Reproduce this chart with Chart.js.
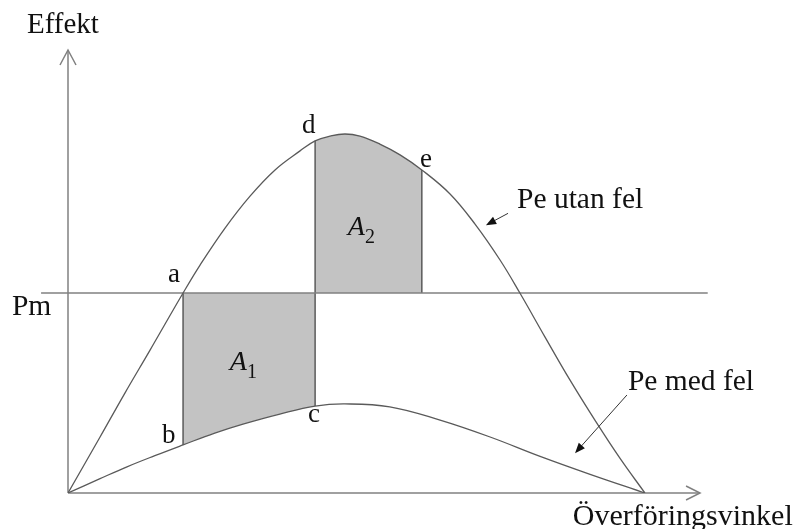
<!DOCTYPE html>
<html>
<head>
<meta charset="utf-8">
<script src="https://cdn.jsdelivr.net/npm/chart.js@4"></script>
<style>
  body { margin: 0; background: #fff; }
</style>
</head>
<body>
<canvas id="ekvChart" width="795" height="529"></canvas>
<script>
// Överföringsvinkel (grader) och effekt (relativ, toppen = 1)
const vinkel = [0, 10.0, 17.8, 25.6, 35.9, 41.2, 49.0, 56.8, 64.6, 72.4, 77.1, 81.7, 86.4, 91.1, 97.3, 103.6, 110.4, 119.2, 127.0, 134.8, 141.0, 148.8, 156.6, 164.4, 172.2, 180];
const peUtanFel = [0, 0.156, 0.279, 0.398, 0.557, 0.635, 0.738, 0.827, 0.900, 0.953, 0.981, 0.994, 1.0, 0.994, 0.972, 0.942, 0.900, 0.833, 0.749, 0.649, 0.557, 0.435, 0.315, 0.203, 0.097, 0];

const vinkelMedFel = [0, 10.0, 18.4, 27.1, 35.9, 45.8, 54.6, 66.1, 77.1, 86.4, 100.4, 116.1, 131.7, 147.3, 162.9, 180];
const peMedFel = [0, 0.040, 0.073, 0.104, 0.134, 0.167, 0.192, 0.220, 0.242, 0.248, 0.240, 0.203, 0.156, 0.102, 0.052, 0];

const pm = 0.557;
// vinklar för a/b, c/d och e
const punktVinklar = [35.9, 77.1, 110.4];

const toPts = (xs, ys) => xs.map((x, i) => ({ x: x, y: ys[i] }));
const utan = toPts(vinkel, peUtanFel);
const med = toPts(vinkelMedFel, peMedFel);
const valAt = (pts, x) => pts.find(p => p.x === x).y;
const between = (pts, a, b) => pts.filter(p => p.x >= a && p.x <= b);

const lineCol = '#5a5a5a';
const axisCol = '#808080';
const serif = '"Liberation Serif"';

const labels = [
    { text: 'Effekt', x: -12.8, y: 1.281, size: 29 },
    { text: 'Pm', x: -17.5, y: 0.496, size: 29.5 },
    { text: 'a', x: 31.2, y: 0.588, size: 27 },
    { text: 'b', x: 29.3, y: 0.139, size: 27 },
    { text: 'c', x: 74.9, y: 0.198, size: 27 },
    { text: 'd', x: 73.0, y: 1.003, size: 27 },
    { text: 'e', x: 109.8, y: 0.908, size: 27 },
    { text: 'Pe utan fel', x: 140.1, y: 0.794, size: 29.5 },
    { text: 'Pe med fel', x: 174.7, y: 0.287, size: 29.5 },
    { text: 'Överföringsvinkel', x: 157.5, y: -0.089, size: 30 },
];
const areaLabels = [
    { sub: '1', x: 50.5, y: 0.343 },
    { sub: '2', x: 87.3, y: 0.719 },
];
const pilar = [
    { from: [137.3, 0.779], to: [130.4, 0.746] },
    { from: [174.4, 0.273], to: [158.2, 0.111] },
];

const ritaText = {
    id: 'ritaText',
    afterDatasetsDraw(chart) {
        const ctx = chart.ctx;
        const xs = chart.scales.x, ys = chart.scales.y;
        const px = v => xs.getPixelForValue(v);
        const py = v => ys.getPixelForValue(v);
        ctx.save();

        // pilspetsar på axlarna
        ctx.strokeStyle = axisCol;
        ctx.lineWidth = 1.5;
        const y0 = py(0), x0 = px(0);
        const yTop = py(1.234), xEnd = px(197.2);
        ctx.beginPath();
        ctx.moveTo(x0 - 8, yTop + 15); ctx.lineTo(x0, yTop); ctx.lineTo(x0 + 8, yTop + 15);
        ctx.moveTo(xEnd - 14, y0 - 7); ctx.lineTo(xEnd, y0); ctx.lineTo(xEnd - 14, y0 + 7);
        ctx.stroke();

        // pilar till kurvorna
        ctx.strokeStyle = '#333';
        ctx.fillStyle = '#111';
        ctx.lineWidth = 1;
        pilar.forEach(p => {
            const fx = px(p.from[0]), fy = py(p.from[1]);
            const tx = px(p.to[0]), ty = py(p.to[1]);
            const ang = Math.atan2(ty - fy, tx - fx);
            ctx.beginPath();
            ctx.moveTo(fx, fy); ctx.lineTo(tx - 6 * Math.cos(ang), ty - 6 * Math.sin(ang));
            ctx.stroke();
            ctx.beginPath();
            ctx.moveTo(tx, ty);
            ctx.lineTo(tx - 11 * Math.cos(ang - 0.38), ty - 11 * Math.sin(ang - 0.38));
            ctx.lineTo(tx - 11 * Math.cos(ang + 0.38), ty - 11 * Math.sin(ang + 0.38));
            ctx.closePath();
            ctx.fill();
        });

        ctx.fillStyle = '#111';
        ctx.textBaseline = 'alphabetic';
        ctx.textAlign = 'left';
        labels.forEach(l => {
            ctx.font = l.size + 'px ' + serif;
            ctx.fillText(l.text, px(l.x), py(l.y));
        });
        areaLabels.forEach(l => {
            ctx.font = 'italic 28px ' + serif;
            const w = ctx.measureText('A').width;
            ctx.fillText('A', px(l.x), py(l.y));
            ctx.font = '20px ' + serif;
            ctx.fillText(l.sub, px(l.x) + w, py(l.y) + 8);
        });
        ctx.restore();
    }
};

const ctx = document.getElementById('ekvChart').getContext('2d');
const chart = new Chart(ctx, {
    type: 'line',
    data: {
        datasets: [
            // kurvor
            { data: utan, borderColor: lineCol, borderWidth: 1.3, tension: 0.4, order: 1 },
            { data: med, borderColor: lineCol, borderWidth: 1.3, tension: 0.4, order: 1 },
            // Pm-linjen
            { data: [{ x: -8.4, y: pm }, { x: 199.6, y: pm }], borderColor: axisCol, borderWidth: 1.5, clip: false, order: 2 },
            // axlar
            { data: [{ x: 0, y: 0 }, { x: 0, y: 1.234 }], borderColor: axisCol, borderWidth: 1.5, clip: false, order: 2 },
            { data: [{ x: 0, y: 0 }, { x: 197.2, y: 0 }], borderColor: axisCol, borderWidth: 1.5, clip: false, order: 2 },
            // lodräta linjer a-b, d-c, e
            { data: [{ x: punktVinklar[0], y: valAt(med, punktVinklar[0]) }, { x: punktVinklar[0], y: pm }], borderColor: lineCol, borderWidth: 1.5, order: 2 },
            { data: [{ x: punktVinklar[1], y: valAt(med, punktVinklar[1]) }, { x: punktVinklar[1], y: valAt(utan, punktVinklar[1]) }], borderColor: lineCol, borderWidth: 1.5, order: 2 },
            { data: [{ x: punktVinklar[2], y: pm }, { x: punktVinklar[2], y: valAt(utan, punktVinklar[2]) }], borderColor: lineCol, borderWidth: 1.5, order: 2 },
            // ytor A1 och A2
            { data: between(med, punktVinklar[0], punktVinklar[1]), borderWidth: 0, fill: { value: pm }, backgroundColor: '#c3c3c3', tension: 0.4, order: 10 },
            { data: between(utan, punktVinklar[1], punktVinklar[2]), borderWidth: 0, fill: { value: pm }, backgroundColor: '#c3c3c3', tension: 0.4, order: 10 },
        ]
    },
    options: {
        responsive: false,
        animation: false,
        events: [],
        layout: { padding: { left: 68, right: 86, top: 44.25, bottom: 36 } },
        elements: { point: { radius: 0 } },
        scales: {
            x: { type: 'linear', min: 0, max: 200, display: false },
            y: { type: 'linear', min: 0, max: 1.25, display: false }
        },
        plugins: {
            legend: { display: false },
            tooltip: { enabled: false },
            filler: { propagate: false }
        }
    },
    plugins: [ritaText]
});
</script>
</body>
</html>
